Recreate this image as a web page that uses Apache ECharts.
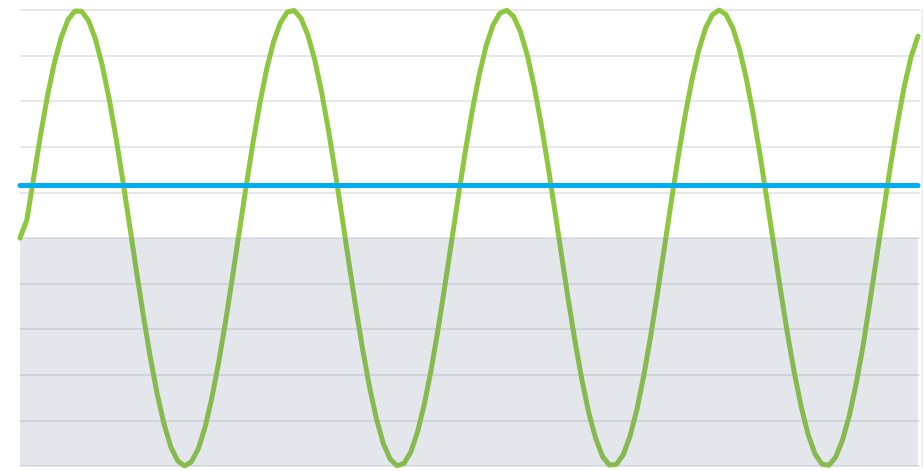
<!DOCTYPE html>
<html>
<head>
<meta charset="utf-8">
<script src="https://cdn.jsdelivr.net/npm/echarts@6/dist/echarts.min.js"></script>
<style>
html,body{margin:0;padding:0;background:#fff;}
#chart{width:923px;height:471px;}
</style>
</head>
<body>
<div id="chart"></div>
<script>
const xValues = [0,0.2,0.4,0.6,0.8,1,1.2,1.4,1.6,1.8,2,2.2,2.4,2.6,2.8,3,3.2,3.4,3.6,3.8,4,4.2,4.4,4.6,4.8,5,5.2,5.4,5.6,5.8,6,6.2,6.4,6.6,6.8,7,7.2,7.4,7.6,7.8,8,8.2,8.4,8.6,8.8,9,9.2,9.4,9.6,9.8,10,10.2,10.4,10.6,10.8,11,11.2,11.4,11.6,11.8,12,12.2,12.4,12.6,12.8,13,13.2,13.4,13.6,13.8,14,14.2,14.4,14.6,14.8,15,15.2,15.4,15.6,15.8,16,16.2,16.4,16.6,16.8,17,17.2,17.4,17.6,17.8,18,18.2,18.4,18.6,18.8,19,19.2,19.4,19.6,19.8,20,20.2,20.4,20.6,20.8,21,21.2,21.4,21.6,21.8,22,22.2,22.4,22.6,22.8,23,23.2,23.4,23.6,23.8,24,24.2,24.4,24.6,24.8,25,25.2,25.4,25.6,25.8,26,26.2];
const waveValues = [0,0.08,0.265,0.452,0.622,0.766,0.879,0.957,0.996,0.994,0.953,0.873,0.757,0.611,0.441,0.252,0.053,-0.148,-0.342,-0.522,-0.682,-0.815,-0.916,-0.977,-1.000,-0.982,-0.925,-0.830,-0.700,-0.543,-0.365,-0.171,0.030,0.229,0.419,0.592,0.742,0.861,0.945,0.991,0.998,0.963,0.890,0.781,0.640,0.473,0.287,0.089,-0.112,-0.307,-0.490,-0.655,-0.793,-0.901,-0.969,-0.999,-0.989,-0.940,-0.850,-0.727,-0.575,-0.399,-0.207,-0.007,0.193,0.386,0.562,0.716,0.842,0.933,0.986,0.999,0.972,0.906,0.803,0.667,0.505,0.322,0.126,-0.075,-0.273,-0.459,-0.626,-0.769,-0.880,-0.959,-0.996,-0.993,-0.951,-0.869,-0.752,-0.604,-0.432,-0.243,-0.044,0.157,0.351,0.532,0.690,0.821,0.919,0.979,1.000,0.980,0.921,0.824,0.694,0.536,0.357,0.162,-0.038,-0.237,-0.426,-0.597,-0.744,-0.865,-0.948,-0.992,-0.997,-0.961,-0.886,-0.778,-0.637,-0.472,-0.278,-0.080,0.121,0.317,0.500,0.664,0.795,0.885];
const thresholdValue = 0.23;
const baselineValue = 0;
const yTicks = [-1,-0.8,-0.6,-0.4,-0.2,0,0.2,0.4,0.6,0.8,1];

const xFirst = xValues[0];
const xLast = xValues[xValues.length - 1];
const chart = echarts.init(document.getElementById('chart'));
chart.setOption({
  animation: false,
  backgroundColor: '#ffffff',
  grid: {left: 20, right: 3, top: 10, bottom: 5, containLabel: false},
  xAxis: {
    type: 'value', min: xFirst, max: 26.26,
    axisLine: {show: false}, axisTick: {show: false}, axisLabel: {show: false}, splitLine: {show: false}
  },
  yAxis: [{
    type: 'value', min: yTicks[0], max: yTicks[yTicks.length-1], interval: 0.2,
    axisLine: {show: false}, axisTick: {show: false}, axisLabel: {show: false},
    splitLine: {show: true, lineStyle: {color: '#e6e7e9', width: 2}}
  }, {
    type: 'value', position: 'right', offset: 2, min: -1, max: 1,
    axisLine: {show: true, lineStyle: {color: '#eeeeee', width: 3}},
    axisTick: {show: false}, axisLabel: {show: false}, splitLine: {show: false}
  }],
  series: [
    {
      type: 'line', z: 2,
      data: xValues.map((x, i) => [x, waveValues[i]]),
      showSymbol: false, smooth: false,
      lineStyle: {color: '#8dc63f', width: 5, cap: 'round', join: 'round'}
    },
    {
      type: 'line', z: 4,
      data: [[xFirst, thresholdValue], [xLast, thresholdValue]],
      showSymbol: false,
      lineStyle: {color: '#00aeef', width: 5, cap: 'round'}
    },
    {
      type: 'line', z: 5,
      data: [[xFirst, baselineValue], [xLast, baselineValue]],
      showSymbol: false,
      lineStyle: {opacity: 0, width: 0},
      areaStyle: {color: 'rgba(115,135,155,0.2)', opacity: 1, origin: 'start'}
    }
  ]
});
</script>
</body>
</html>
